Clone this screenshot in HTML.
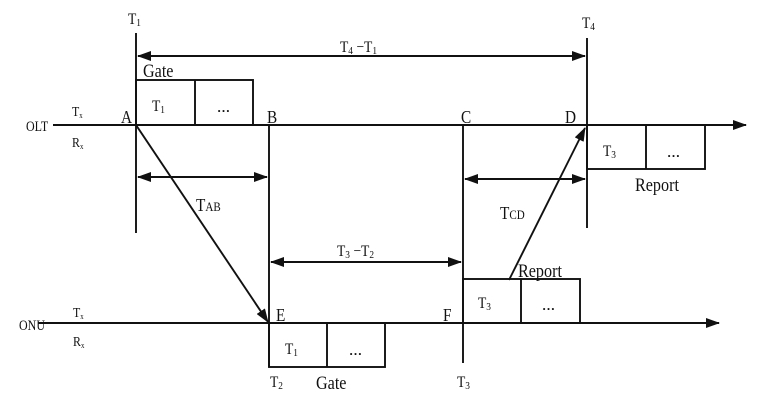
<!DOCTYPE html>
<html><head><meta charset="utf-8"><style>
html,body{margin:0;padding:0;background:#fff;}
svg{display:block;}
text{font-family:"Liberation Serif","Noto Serif CJK SC",serif;fill:#111;}
</style></head><body>
<svg width="762" height="409" viewBox="0 0 762 409" xmlns="http://www.w3.org/2000/svg">
<defs>
<marker id="ah" markerWidth="14" markerHeight="10" refX="13" refY="5" orient="auto" markerUnits="userSpaceOnUse">
<path d="M0,0 L14,5 L0,10 z" fill="#111"/></marker>
<marker id="as" markerWidth="14" markerHeight="10" refX="1" refY="5" orient="auto" markerUnits="userSpaceOnUse">
<path d="M14,0 L0,5 L14,10 z" fill="#111"/></marker>
</defs>
<g stroke="#111" stroke-width="1.9" fill="none">
<line x1="53" y1="125" x2="746" y2="125" marker-end="url(#ah)"/>
<line x1="38" y1="323" x2="719" y2="323" marker-end="url(#ah)"/>
<line x1="136" y1="33" x2="136" y2="233"/>
<line x1="587" y1="38" x2="587" y2="228"/>
<line x1="269" y1="125" x2="269" y2="367"/>
<line x1="463" y1="125" x2="463" y2="363"/>
<rect x="136" y="80" width="117" height="45"/><line x1="195" y1="80" x2="195" y2="125"/>
<rect x="587" y="125" width="118" height="44"/><line x1="646" y1="125" x2="646" y2="169"/>
<rect x="269" y="323" width="116" height="44"/><line x1="327" y1="323" x2="327" y2="367"/>
<rect x="463" y="279" width="117" height="44"/><line x1="521" y1="279" x2="521" y2="323"/>
<line x1="138" y1="56" x2="585" y2="56" marker-start="url(#as)" marker-end="url(#ah)"/>
<line x1="138" y1="177" x2="267" y2="177" marker-start="url(#as)" marker-end="url(#ah)"/>
<line x1="465" y1="179" x2="585" y2="179" marker-start="url(#as)" marker-end="url(#ah)"/>
<line x1="271" y1="262" x2="461" y2="262" marker-start="url(#as)" marker-end="url(#ah)"/>
<line x1="136" y1="125" x2="268" y2="322" marker-end="url(#ah)"/>
<line x1="509" y1="280" x2="585" y2="128" marker-end="url(#ah)"/>
</g>
<g font-size="16">
<text transform="translate(128,24) scale(0.85,1)">T<tspan font-size="11" dy="2">1</tspan></text>
<text transform="translate(582,28) scale(0.85,1)">T<tspan font-size="11" dy="2">4</tspan></text>
<text transform="translate(340,52) scale(0.85,1)">T<tspan font-size="11" dy="2">4</tspan><tspan dy="-2"> −T</tspan><tspan font-size="11" dy="2">1</tspan></text>
<text transform="translate(143,77) scale(0.85,1)" font-size="19">Gate</text>
<text transform="translate(152,111) scale(0.85,1)">T<tspan font-size="11" dy="2">1</tspan></text>
<text x="217" y="112" font-size="13" font-weight="bold">…</text>
<text transform="translate(121,123) scale(0.85,1)" font-size="18">A</text>
<text transform="translate(267,123) scale(0.85,1)" font-size="18">B</text>
<text transform="translate(461,123) scale(0.85,1)" font-size="18">C</text>
<text transform="translate(565,123) scale(0.85,1)" font-size="18">D</text>
<text transform="translate(26,131) scale(0.8,1)" font-size="15">OLT</text>
<text transform="translate(72,116) scale(0.85,1)" font-size="14">T<tspan font-size="8" dy="2">x</tspan></text>
<text transform="translate(72,147) scale(0.85,1)" font-size="14">R<tspan font-size="8" dy="2">x</tspan></text>
<text transform="translate(196,211) scale(0.85,1)" font-size="18">T<tspan font-size="13">AB</tspan></text>
<text transform="translate(500,219) scale(0.85,1)" font-size="18">T<tspan font-size="13">CD</tspan></text>
<text transform="translate(603,156) scale(0.85,1)">T<tspan font-size="11" dy="2">3</tspan></text>
<text x="667" y="157" font-size="13" font-weight="bold">…</text>
<text transform="translate(635,191) scale(0.85,1)" font-size="19">Report</text>
<text transform="translate(337,256) scale(0.85,1)">T<tspan font-size="11" dy="2">3</tspan><tspan dy="-2"> −T</tspan><tspan font-size="11" dy="2">2</tspan></text>
<text transform="translate(518,277) scale(0.85,1)" font-size="19">Report</text>
<text transform="translate(478,308) scale(0.85,1)">T<tspan font-size="11" dy="2">3</tspan></text>
<text x="542" y="310" font-size="13" font-weight="bold">…</text>
<text transform="translate(276,321) scale(0.85,1)" font-size="18">E</text>
<text transform="translate(443,321) scale(0.85,1)" font-size="18">F</text>
<text transform="translate(19,330) scale(0.8,1)" font-size="15">ONU</text>
<text transform="translate(73,317) scale(0.85,1)" font-size="14">T<tspan font-size="8" dy="2">x</tspan></text>
<text transform="translate(73,346) scale(0.85,1)" font-size="14">R<tspan font-size="8" dy="2">x</tspan></text>
<text transform="translate(285,354) scale(0.85,1)">T<tspan font-size="11" dy="2">1</tspan></text>
<text x="349" y="355" font-size="13" font-weight="bold">…</text>
<text transform="translate(270,387) scale(0.85,1)">T<tspan font-size="11" dy="2">2</tspan></text>
<text transform="translate(316,389) scale(0.85,1)" font-size="19">Gate</text>
<text transform="translate(457,387) scale(0.85,1)">T<tspan font-size="11" dy="2">3</tspan></text>
</g>
</svg>
</body></html>
